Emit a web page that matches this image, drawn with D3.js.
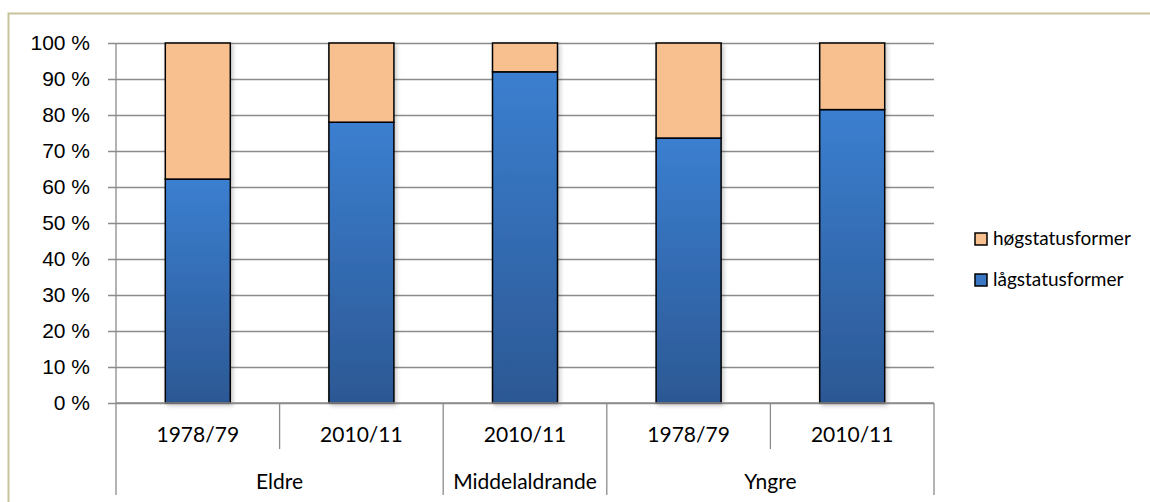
<!DOCTYPE html>
<html>
<head>
<meta charset="utf-8">
<script src="https://cdn.jsdelivr.net/npm/d3@7"></script>
<style>
  body { margin: 0; background: #fff; }
  svg { display: block; font-family: Lato, "Open Sans", sans-serif; }
</style>
</head>
<body>
<div id="viz"></div>
<script>
// chart values
var groups = ["Eldre", "Eldre", "Middelaldrande", "Yngre", "Yngre"],
    periods = ["1978/79", "2010/11", "2010/11", "1978/79", "2010/11"],
    lowStatus = [62.2, 78.0, 92.0, 73.6, 81.5],
    highStatus = lowStatus.map(function (v) { return 100 - v; }),
    seriesNames = ["lågstatusformer", "høgstatusformer"],
    yTicks = [0, 10, 20, 30, 40, 50, 60, 70, 80, 90, 100];

var width = 1150, height = 502,
    margin = { top: 43, left: 116, right: 216, bottom: 99 },
    plotW = width - margin.left - margin.right,
    plotH = height - margin.top - margin.bottom,
    fontSize = 21;

var svg = d3.select('#viz').append('svg')
    .attr('width', width)
    .attr('height', height);

var defs = svg.append('defs');
var grad = defs.append('linearGradient')
    .attr('id', 'blueGrad')
    .attr('x1', 0).attr('y1', 0).attr('x2', 0).attr('y2', 1);
grad.append('stop').attr('offset', '0%').attr('stop-color', '#3b7fd0');
grad.append('stop').attr('offset', '100%').attr('stop-color', '#2c5894');

var shadow = defs.append('filter').attr('id', 'shadow')
    .attr('x', '-20%').attr('y', '-5%').attr('width', '140%').attr('height', '115%');
shadow.append('feDropShadow')
    .attr('dx', 2).attr('dy', 2).attr('stdDeviation', 2)
    .attr('flood-color', '#000').attr('flood-opacity', 0.22);

// outer frame
svg.append('rect')
    .attr('x', 8.5).attr('y', 13.5)
    .attr('width', width + 10).attr('height', height + 10)
    .attr('fill', 'none')
    .attr('stroke', '#c8c29e')
    .attr('stroke-width', 2);

var g = svg.append('g')
    .attr('transform', 'translate(' + margin.left + ',' + margin.top + ')');

var idx = d3.range(lowStatus.length);

var x = d3.scaleBand()
    .domain(idx)
    .range([0, plotW])
    .paddingInner(0)
    .paddingOuter(0);

var y = d3.scaleLinear()
    .domain([0, 100])
    .range([plotH, 0]);

// gridlines + y ticks
var yAxis = d3.axisLeft(y)
    .tickValues(yTicks)
    .tickSize(-plotW - 8)
    .tickPadding(18)
    .tickFormat(function (d) { return d + ' %'; });

var yg = g.append('g')
    .attr('transform', 'translate(-8,0)')
    .call(yAxis);
yg.select('.domain').remove();
yg.selectAll('.tick line')
    .attr('stroke', '#8c8c8c')
    .attr('stroke-width', 1.3);
yg.selectAll('.tick text')
    .attr('x', -18)
    .attr('font-size', fontSize)
    .attr('fill', '#000');

// y axis line
g.append('line')
    .attr('x1', 0).attr('x2', 0)
    .attr('y1', 0).attr('y2', plotH)
    .attr('stroke', '#8c8c8c').attr('stroke-width', 1.3);

// bars
var barW = 65;
var bars = g.append('g').attr('filter', 'url(#shadow)');

bars.selectAll('rect.low')
    .data(idx)
    .enter().append('rect')
    .attr('class', 'low')
    .attr('x', function (d) { return x(d) + x.bandwidth() / 2 - barW / 2; })
    .attr('y', function (d) { return y(lowStatus[d]); })
    .attr('width', barW)
    .attr('height', function (d) { return y(0) - y(lowStatus[d]); })
    .attr('fill', 'url(#blueGrad)')
    .attr('stroke', '#000')
    .attr('stroke-width', 1.5);

bars.selectAll('rect.high')
    .data(idx)
    .enter().append('rect')
    .attr('class', 'high')
    .attr('x', function (d) { return x(d) + x.bandwidth() / 2 - barW / 2; })
    .attr('y', function (d) { return y(lowStatus[d] + highStatus[d]); })
    .attr('width', barW)
    .attr('height', function (d) { return y(lowStatus[d]) - y(lowStatus[d] + highStatus[d]); })
    .attr('fill', '#f9c08f')
    .attr('stroke', '#000')
    .attr('stroke-width', 1.5);

// x axis line
g.append('line')
    .attr('x1', 0).attr('x2', plotW)
    .attr('y1', plotH).attr('y2', plotH)
    .attr('stroke', '#8c8c8c').attr('stroke-width', 1.3);

// period labels
var xa = g.append('g').attr('transform', 'translate(0,' + plotH + ')');
xa.selectAll('text.period')
    .data(idx)
    .enter().append('text')
    .attr('class', 'period')
    .attr('x', function (d) { return x(d) + x.bandwidth() / 2; })
    .attr('y', 39)
    .attr('text-anchor', 'middle')
    .attr('font-size', fontSize)
    .text(function (d) { return periods[d]; });

// separators between periods inside a group, and between groups
var bounds = d3.range(lowStatus.length + 1);
xa.selectAll('line.sep')
    .data(bounds)
    .enter().append('line')
    .attr('class', 'sep')
    .attr('x1', function (d) { return d * x.bandwidth(); })
    .attr('x2', function (d) { return d * x.bandwidth(); })
    .attr('y1', 0)
    .attr('y2', function (d) {
        var isGroupEdge = d === 0 || d === lowStatus.length || groups[d] !== groups[d - 1];
        return isGroupEdge ? 92 : 46;
    })
    .attr('stroke', '#8c8c8c').attr('stroke-width', 1.3);

// group labels
var groupNames = [];
groups.forEach(function (gr, i) {
    var last = groupNames[groupNames.length - 1];
    if (last && last.name === gr) last.end = i;
    else groupNames.push({ name: gr, start: i, end: i });
});
xa.selectAll('text.group')
    .data(groupNames)
    .enter().append('text')
    .attr('class', 'group')
    .attr('x', function (d) { return (x(d.start) + x(d.end) + x.bandwidth()) / 2; })
    .attr('y', 86)
    .attr('text-anchor', 'middle')
    .attr('font-size', fontSize)
    .text(function (d) { return d.name; });

// legend
var legendItems = [
    { name: seriesNames[1], fill: '#f9c08f' },
    { name: seriesNames[0], fill: '#3a76c4' }
];
var legend = svg.append('g').attr('transform', 'translate(975,233)');
var li = legend.selectAll('g')
    .data(legendItems)
    .enter().append('g')
    .attr('transform', function (d, i) { return 'translate(0,' + i * 41 + ')'; });
li.append('rect')
    .attr('width', 12).attr('height', 12)
    .attr('fill', function (d) { return d.fill; })
    .attr('stroke', '#000').attr('stroke-width', 1.5);
li.append('text')
    .attr('x', 18).attr('y', 12)
    .attr('font-size', 19)
    .text(function (d) { return d.name; });
</script>
</body>
</html>
